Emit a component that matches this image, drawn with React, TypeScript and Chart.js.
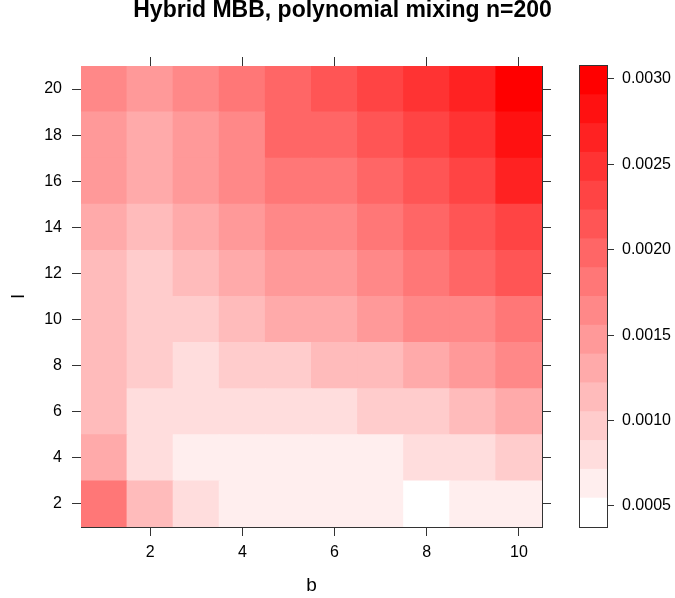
import React, { useEffect, useRef } from "react"
import { Chart, registerables } from "chart.js"

Chart.register(...registerables)

Chart.defaults.font.family = "'Liberation Sans', Arial, Helvetica, sans-serif"
Chart.defaults.color = "#000"

// axes
const bValues = [1, 2, 3, 4, 5, 6, 7, 8, 9, 10]
const lValues = [2, 4, 6, 8, 10, 12, 14, 16, 18, 20]
const xTicks = [2, 4, 6, 8, 10]
const yTicks = [2, 4, 6, 8, 10, 12, 14, 16, 18, 20]
const colorTicks = [0.0005, 0.001, 0.0015, 0.002, 0.0025, 0.003]

// colour key range and number of levels
const zRange = [0.000377, 0.003076]
const nLevels = 16

// values per row (l), one entry per b
const l2 = [0.00183, 0.00112, 0.00078, 0.00062, 0.0006, 0.00061, 0.00064, 0.00049, 0.00058, 0.00066]
const l4 = [0.00129, 0.00079, 0.00065, 0.00063, 0.00062, 0.00064, 0.00066, 0.00076, 0.00081, 0.00094]
const l6 = [0.00115, 0.00078, 0.00074, 0.00076, 0.00077, 0.0008, 0.00091, 0.00097, 0.00112, 0.00128]
const l8 = [0.00114, 0.00095, 0.00082, 0.00093, 0.00098, 0.00108, 0.00116, 0.00127, 0.00145, 0.00162]
const l10 = [0.00111, 0.00092, 0.00098, 0.00113, 0.00126, 0.00133, 0.00148, 0.00159, 0.00167, 0.00178]
const l12 = [0.00116, 0.00096, 0.00118, 0.00131, 0.00144, 0.0015, 0.00163, 0.00179, 0.00195, 0.00214]
const l14 = [0.00128, 0.00117, 0.00132, 0.00146, 0.00161, 0.00166, 0.00182, 0.00199, 0.00213, 0.00229]
const l16 = [0.00144, 0.00134, 0.00146, 0.00163, 0.00177, 0.00183, 0.00194, 0.00212, 0.00227, 0.00262]
const l18 = [0.00147, 0.00131, 0.00149, 0.00165, 0.00193, 0.00198, 0.00211, 0.00226, 0.00243, 0.00278]
const l20 = [0.00161, 0.00151, 0.00166, 0.00179, 0.00196, 0.00215, 0.00231, 0.00248, 0.00264, 0.00305]
const zRows = [l2, l4, l6, l8, l10, l12, l14, l16, l18, l20]

const step = (zRange[1] - zRange[0]) / nLevels
const breaks = Array.from({ length: nLevels + 1 }, (_, i) => zRange[0] + i * step)

const levelOf = (v: number) =>
    Math.max(0, Math.min(nLevels - 1, Math.floor((v - zRange[0]) / step)))

// white -> red ramp
const levelColor = (k: number) => {
    const c = Math.round(255 * (1 - k / (nLevels - 1)))
    return `rgb(255,${c},${c})`
}

const LINE = "#333"

const tickGrid = (len: number) => ({
    display: true,
    drawOnChartArea: false,
    drawTicks: true,
    tickLength: len,
    color: LINE,
    lineWidth: 1,
    offset: false,
})

const frame = { display: true, color: LINE, width: 1 }

const HeatMap: React.FC = () => {
    const chartRef = useRef<HTMLCanvasElement>(null)
    const chartInstance = useRef<Chart | null>(null)

    useEffect(() => {
        if (!chartRef.current) return
        if (chartInstance.current) chartInstance.current.destroy()
        const ctx = chartRef.current.getContext("2d")
        if (!ctx) return

        const xHalf = (bValues[1] - bValues[0]) / 2
        const yHalf = (lValues[1] - lValues[0]) / 2
        const xMin = bValues[0] - xHalf
        const xMax = bValues[bValues.length - 1] + xHalf
        const yMin = lValues[0] - yHalf
        const yMax = lValues[lValues.length - 1] + yHalf

        const datasets = lValues.map((l, i) => ({
            label: `l=${l}`,
            data: bValues.map((b) => ({ x: b, y: [l - yHalf, l + yHalf] })),
            backgroundColor: zRows[i].map((v) => levelColor(levelOf(v))),
            borderWidth: 0,
            grouped: false,
            barPercentage: 1,
            categoryPercentage: 1,
            inflateAmount: 0.5,
        }))

        const setX = (s: any) => { s.ticks = xTicks.map((v) => ({ value: v })) }
        const setY = (s: any) => { s.ticks = yTicks.map((v) => ({ value: v })) }

        chartInstance.current = new Chart(ctx, {
            type: "bar",
            data: { datasets: datasets as any },
            options: {
                responsive: false,
                animation: false,
                layout: { padding: { left: 10, right: 0, top: 0, bottom: 0 } },
                plugins: {
                    legend: { display: false },
                    tooltip: { enabled: false },
                    title: {
                        display: true,
                        text: "Hybrid MBB, polynomial mixing n=200",
                        color: "#000",
                        font: { size: 23, weight: "bold", lineHeight: 1 },
                        padding: { top: -1, bottom: 0 },
                    },
                },
                scales: {
                    x: {
                        type: "linear",
                        position: "bottom",
                        min: xMin,
                        max: xMax,
                        offset: false,
                        z: 1,
                        afterBuildTicks: setX,
                        afterFit: (s: any) => { s.height = 71 },
                        grid: tickGrid(9),
                        border: frame,
                        ticks: { autoSkip: false, maxRotation: 0, padding: 7, font: { size: 16 }, color: "#000" },
                        title: { display: true, text: "b", color: "#000", font: { size: 19 }, padding: { top: 0, bottom: 1 } },
                    },
                    x2: {
                        type: "linear",
                        position: "top",
                        min: xMin,
                        max: xMax,
                        offset: false,
                        z: 1,
                        afterBuildTicks: setX,
                        afterFit: (s: any) => { s.height = 44 },
                        grid: tickGrid(9),
                        border: frame,
                        ticks: { display: false, autoSkip: false },
                    },
                    y: {
                        type: "linear",
                        position: "left",
                        min: yMin,
                        max: yMax,
                        beginAtZero: false,
                        z: 1,
                        afterBuildTicks: setY,
                        afterFit: (s: any) => { s.width = 71 },
                        grid: tickGrid(9),
                        border: frame,
                        ticks: { autoSkip: false, padding: 10, font: { size: 16 }, color: "#000" },
                        title: { display: true, text: "l", color: "#000", font: { size: 19 }, padding: { top: -3, bottom: 0 } },
                    },
                    y2: {
                        type: "linear",
                        position: "right",
                        min: yMin,
                        max: yMax,
                        beginAtZero: false,
                        z: 1,
                        afterBuildTicks: setY,
                        afterFit: (s: any) => { s.width = 133 },
                        grid: tickGrid(9),
                        border: frame,
                        ticks: { display: false, autoSkip: false },
                    },
                },
            } as any,
        })

        return () => {
            if (chartInstance.current) {
                chartInstance.current.destroy()
                chartInstance.current = null
            }
        }
    }, [])

    return <canvas ref={chartRef} width={675} height={598} style={{ position: "absolute", left: 0, top: 0 }} />
}

// box round the colour key
const framePlugin = {
    id: "keyFrame",
    afterDraw(chart: Chart) {
        const { ctx, chartArea } = chart
        const l = Math.round(chartArea.left) - 0.5
        const t = Math.round(chartArea.top) - 0.5
        const r = Math.round(chartArea.right) + 0.5
        const b = Math.round(chartArea.bottom) + 0.5
        ctx.save()
        ctx.strokeStyle = LINE
        ctx.lineWidth = 1
        ctx.strokeRect(l, t, r - l, b - t)
        ctx.restore()
    },
}

const ColorKey: React.FC = () => {
    const chartRef = useRef<HTMLCanvasElement>(null)
    const chartInstance = useRef<Chart | null>(null)

    useEffect(() => {
        if (!chartRef.current) return
        if (chartInstance.current) chartInstance.current.destroy()
        const ctx = chartRef.current.getContext("2d")
        if (!ctx) return

        const datasets = breaks.slice(0, -1).map((lo, k) => ({
            label: `level ${k}`,
            data: [[lo, breaks[k + 1]]],
            backgroundColor: levelColor(k),
            borderWidth: 0,
            grouped: false,
            barPercentage: 1,
            categoryPercentage: 1,
            inflateAmount: 0.5,
        }))

        chartInstance.current = new Chart(ctx, {
            type: "bar",
            data: { labels: ["z"], datasets: datasets as any },
            plugins: [framePlugin],
            options: {
                responsive: false,
                animation: false,
                layout: { padding: { left: 20, top: 66, bottom: 71, right: 0 } },
                plugins: {
                    legend: { display: false },
                    tooltip: { enabled: false },
                },
                scales: {
                    x: { type: "category", display: false },
                    y: {
                        type: "linear",
                        position: "right",
                        min: zRange[0],
                        max: zRange[1],
                        beginAtZero: false,
                        z: 1,
                        afterBuildTicks: (s: any) => { s.ticks = colorTicks.map((v) => ({ value: v })) },
                        afterFit: (s: any) => { s.width = 68 },
                        grid: tickGrid(7),
                        border: frame,
                        ticks: {
                            autoSkip: false,
                            padding: 8,
                            font: { size: 16 },
                            color: "#000",
                            callback: (v: any) => Number(v).toFixed(4),
                        },
                    },
                },
            } as any,
        })

        return () => {
            if (chartInstance.current) {
                chartInstance.current.destroy()
                chartInstance.current = null
            }
        }
    }, [])

    return <canvas ref={chartRef} width={115} height={598} style={{ position: "absolute", left: 560, top: 0 }} />
}

export default function App() {
    return (
        <div style={{ position: "absolute", left: 0, top: 0, width: 675, height: 598, background: "#fff" }}>
            <HeatMap />
            <ColorKey />
        </div>
    )
}
